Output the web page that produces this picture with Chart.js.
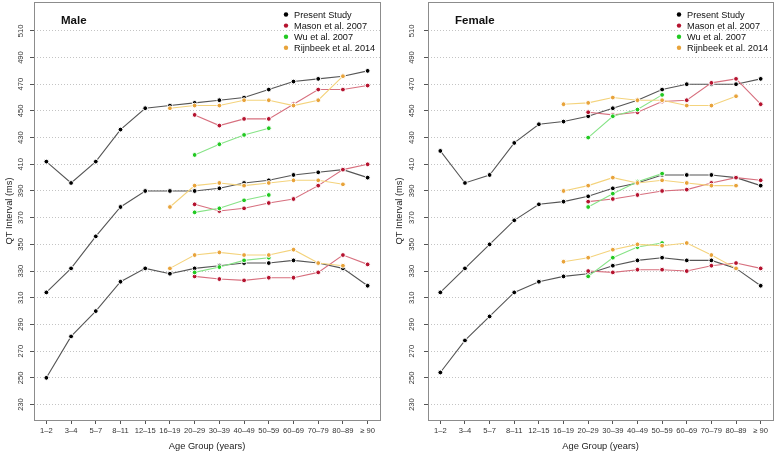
<!DOCTYPE html>
<html>
<head>
<meta charset="utf-8">
<script src="https://cdn.jsdelivr.net/npm/chart.js@4.4.1/dist/chart.umd.min.js"></script>
<style>
html, body { margin: 0; padding: 0; background: #fff; }
#wrap { position: relative; width: 778px; height: 455px; }
canvas { position: absolute; top: 0; }
</style>
</head>
<body>
<div id="wrap">
  <canvas id="male" width="390" height="455" style="left:0"></canvas>
  <canvas id="female" width="388" height="455" style="left:390px"></canvas>
</div>
<script>
var ageGroups = ["1\u20132", "3\u20134", "5\u20137", "8\u201311", "12\u201315", "16\u201319", "20\u201329",
    "30\u201339", "40\u201349", "50\u201359", "60\u201369", "70\u201379", "80\u201389", "\u2265 90"];
var yTicks = [230, 250, 270, 290, 310, 330, 350, 370, 390, 410, 430, 450, 470, 490, 510];
var sources = ["Present Study", "Mason et al. 2007", "Wu et al. 2007", "Rijnbeek et al. 2014"];

// male, upper / middle / lower lines
var malePresentHi = [412, 396, 412, 436, 452, 454, 456, 458, 460, 466, 472, 474, 476, 480];
var malePresentMid = [314, 332, 356, 378, 390, 390, 390, 392, 396, 398, 402, 404, 406, 400];
var malePresentLo = [250, 281, 300, 322, 332, 328, 332, 334, 336, 336, 338, 336, 332, 319];
var maleMasonHi = [null, null, null, null, null, null, 447, 439, 444, 444, 455, 466, 466, 469];
var maleMasonMid = [null, null, null, null, null, null, 380, 375, 377, 381, 384, 394, 406, 410];
var maleMasonLo = [null, null, null, null, null, null, 326, 324, 323, 325, 325, 329, 342, 335];
var maleWuHi = [null, null, null, null, null, null, 417, 425, 432, 437, null, null, null, null];
var maleWuMid = [null, null, null, null, null, null, 374, 377, 383, 387, null, null, null, null];
var maleWuLo = [null, null, null, null, null, null, 329, 333, 338, 340, null, null, null, null];
var maleRijHi = [null, null, null, null, null, 452, 454, 454, 458, 458, 454, 458, 476, null];
var maleRijMid = [null, null, null, null, null, 378, 394, 396, 394, 396, 398, 398, 395, null];
var maleRijLo = [null, null, null, null, null, 332, 342, 344, 342, 342, 346, 336, 334, null];

// female
var femalePresentHi = [420, 396, 402, 426, 440, 442, 446, 452, 458, 466, 470, 470, 470, 474];
var femalePresentMid = [314, 332, 350, 368, 380, 382, 386, 392, 396, 402, 402, 402, 400, 394];
var femalePresentLo = [254, 278, 296, 314, 322, 326, 328, 334, 338, 340, 338, 338, 332, 319];
var femaleMasonHi = [null, null, null, null, null, null, 449, 447, 449, 457, 458, 471, 474, 455];
var femaleMasonMid = [null, null, null, null, null, null, 382, 384, 387, 390, 391, 396, 400, 398];
var femaleMasonLo = [null, null, null, null, null, null, 330, 329, 331, 331, 330, 334, 336, 332];
var femaleWuHi = [null, null, null, null, null, null, 430, 446, 451, 462, null, null, null, null];
var femaleWuMid = [null, null, null, null, null, null, 378, 388, 397, 403, null, null, null, null];
var femaleWuLo = [null, null, null, null, null, null, 326, 340, 348, 351, null, null, null, null];
var femaleRijHi = [null, null, null, null, null, 455, 456, 460, 458, 458, 454, 454, 461, null];
var femaleRijMid = [null, null, null, null, null, 390, 394, 400, 396, 398, 396, 394, 394, null];
var femaleRijLo = [null, null, null, null, null, 337, 340, 346, 350, 349, 351, 342, 332, null];

var FONT = '"Liberation Sans", Arial, Helvetica, sans-serif';
var pointColors = ["#000000", "#b5132f", "#22c922", "#e8a33a"];
var lineColors = ["#555555", "#d76f7e", "#86e386", "#f4d37c"];

function makeSets(groups) {
    var sets = [];
    for (var s = 0; s < groups.length; s++) {
        for (var k = 0; k < groups[s].length; k++) {
            sets.push({
                label: sources[s],
                data: groups[s][k],
                borderColor: lineColors[s],
                borderWidth: 1.1,
                pointBackgroundColor: pointColors[s],
                pointBorderColor: "#ffffff",
                pointBorderWidth: 1,
                pointRadius: 2.4,
                order: 4 - s,
                tension: 0,
                fill: false
            });
        }
    }
    return sets;
}

var panelDecor = {
    id: "panelDecor",
    afterDraw: function(chart, args, opts) {
        var ctx = chart.ctx;
        var a = chart.chartArea;
        ctx.save();
        ctx.strokeStyle = "#8c8c8c";
        ctx.lineWidth = 1;
        ctx.strokeRect(Math.round(a.left) + 0.5, Math.round(a.top) + 0.5,
            Math.round(a.right - a.left), Math.round(a.bottom - a.top));
        ctx.fillStyle = "#111";
        ctx.textBaseline = "middle";
        ctx.font = "bold 11.5px " + FONT;
        ctx.fillText(opts.title, a.left + 27, a.top + 19);
        ctx.font = "9.2px " + FONT;
        for (var i = 0; i < sources.length; i++) {
            var y = a.top + 12.5 + 11.1 * i;
            ctx.beginPath();
            ctx.arc(a.right - 94, y, 2.2, 0, Math.PI * 2);
            ctx.fillStyle = pointColors[i];
            ctx.fill();
            ctx.fillStyle = "#111";
            ctx.fillText(sources[i], a.right - 86, y + 0.5);
        }
        ctx.restore();
    }
};

function makeChart(id, title, groups, yWidth, yPad, rightPad) {
    return new Chart(document.getElementById(id), {
        type: "line",
        data: { labels: ageGroups, datasets: makeSets(groups) },
        plugins: [panelDecor],
        options: {
            responsive: false,
            animation: false,
            layout: { autoPadding: false, padding: { top: 2, right: rightPad, bottom: 0, left: 0 } },
            plugins: {
                legend: { display: false },
                tooltip: { enabled: false },
                panelDecor: { title: title }
            },
            scales: {
                x: {
                    offset: true,
                    afterFit: function(s) {
                        s.height = 35;
                        s.paddingLeft = 0;
                        s.paddingRight = 0;
                    },
                    border: { display: false },
                    grid: { drawOnChartArea: false, tickLength: 4, tickColor: "#555", color: "#555" },
                    ticks: { autoSkip: false, maxRotation: 0, padding: 2, color: "#333",
                        font: { family: FONT, size: 7.6 } },
                    title: { display: true, text: "Age Group (years)", color: "#222",
                        font: { family: FONT, size: 9.3 }, padding: { top: 0, bottom: 3 } }
                },
                y: {
                    min: 218.4,
                    max: 531.6,
                    afterBuildTicks: function(s) {
                        s.ticks = yTicks.map(function(v) { return { value: v }; });
                    },
                    afterFit: function(s) {
                        s.width = yWidth;
                        s.paddingTop = 0;
                        s.paddingBottom = 0;
                    },
                    border: { display: false, dash: [1, 2] },
                    grid: { color: "#c4c4c4", tickColor: "#555", tickBorderDash: [], tickLength: 4 },
                    ticks: { minRotation: 90, maxRotation: 90, crossAlign: "center", padding: yPad,
                        color: "#333", font: { family: FONT, size: 7.6 } },
                    title: { display: true, text: "QT Interval (ms)", color: "#222",
                        font: { family: FONT, size: 9.3 }, padding: { top: 4, bottom: 0 } }
                }
            }
        }
    });
}

makeChart("male", "Male", [
    [malePresentHi, malePresentMid, malePresentLo],
    [maleMasonHi, maleMasonMid, maleMasonLo],
    [maleWuHi, maleWuMid, maleWuLo],
    [maleRijHi, maleRijMid, maleRijLo]
], 34, 3, 10);

makeChart("female", "Female", [
    [femalePresentHi, femalePresentMid, femalePresentLo],
    [femaleMasonHi, femaleMasonMid, femaleMasonLo],
    [femaleWuHi, femaleWuMid, femaleWuLo],
    [femaleRijHi, femaleRijMid, femaleRijLo]
], 38, 6, 5);
</script>
</body>
</html>
